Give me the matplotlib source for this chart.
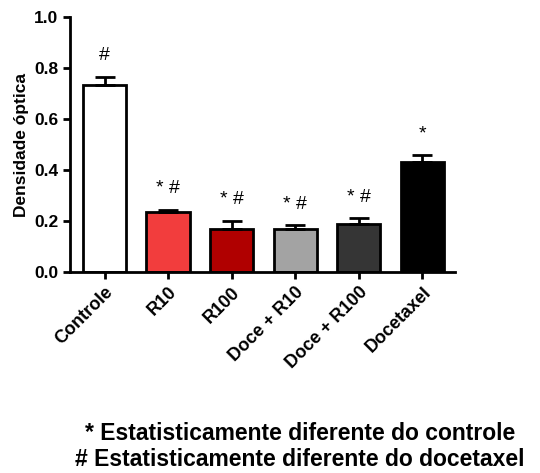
import matplotlib.pyplot as plt
import numpy as np

# dados do grafico
grupos = ['Controle', 'R10', 'R100', 'Doce + R10', 'Doce + R100', 'Docetaxel']
medias = [0.735, 0.235, 0.17, 0.17, 0.19, 0.43]
erros = [0.03, 0.008, 0.03, 0.013, 0.02, 0.028]
cores = ['#ffffff', '#f23d3d', '#b00000', '#a3a3a3', '#353535', '#000000']
marcas = ['#', '* #', '* #', '* #', '* #', '*']

plt.rcParams['font.family'] = ['Liberation Sans', 'DejaVu Sans']
plt.rcParams['font.weight'] = 'bold'

fig = plt.figure(figsize=(5.4, 4.73), dpi=100)
ax = fig.add_axes([0.13, 0.425, 0.713, 0.539])

x = np.arange(len(grupos))
# so a parte de cima do erro aparece
ax.bar(x, medias, width=0.68, color=cores, edgecolor='black', linewidth=2,
       yerr=[np.zeros(len(erros)), erros],
       error_kw=dict(ecolor='black', elinewidth=2, capsize=7, capthick=2), zorder=2)

# marcadores de significancia
for i in range(len(grupos)):
    ax.text(x[i], medias[i] + erros[i] + 0.05, marcas[i], ha='center', va='bottom',
            fontsize=14, fontweight='normal')

ax.set_xlim(-0.54, 5.52)
ax.set_ylim(0, 1.0)
ax.set_yticks(np.arange(0, 1.01, 0.2))
ax.set_yticklabels(['%.1f' % v for v in np.arange(0, 1.01, 0.2)])
ax.set_xticks(x)
ax.set_xticklabels(grupos, rotation=45, ha='right', rotation_mode='anchor', fontsize=13)
ax.set_ylabel('Densidade óptica', fontsize=12.5, fontweight='bold')

for s in ['top', 'right']:
    ax.spines[s].set_visible(False)
for s in ['left', 'bottom']:
    ax.spines[s].set_linewidth(2)
ax.tick_params(axis='both', width=2, length=5)
ax.tick_params(axis='y', labelsize=12.5)

fig.text(0.555, 0.07, '* Estatisticamente diferente do controle', ha='center', fontsize=16.5, fontweight='bold')
fig.text(0.555, 0.015, '# Estatisticamente diferente do docetaxel', ha='center', fontsize=16.5, fontweight='bold')

plt.savefig('out.png', dpi=100)
